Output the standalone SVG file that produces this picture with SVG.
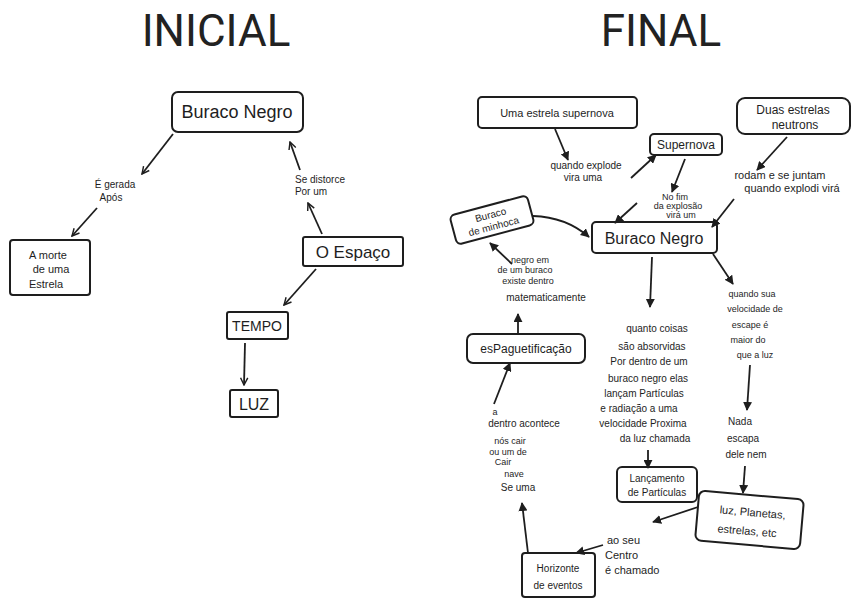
<svg xmlns="http://www.w3.org/2000/svg" width="852" height="600" viewBox="0 0 852 600">
<style>
.title{font-family:Roboto,"Liberation Sans",sans-serif;font-size:44px;fill:#222;text-anchor:middle}
.box{fill:none;stroke:#1e1e1e;stroke-width:2}
.t{font-family:"Liberation Sans","DejaVu Sans",sans-serif;fill:#1e1e1e;text-anchor:middle}
.s{text-anchor:start}
.ln{fill:none;stroke:#1e1e1e;stroke-width:1.8}
.open{marker-end:url(#openArrow)}
.fill{marker-end:url(#fillArrow)}
</style>
<defs>
<marker id="openArrow" viewBox="0 0 10 10" refX="9" refY="5" markerWidth="9" markerHeight="9" markerUnits="userSpaceOnUse" orient="auto">
<path d="M1,1 L9,5 L1,9" fill="none" stroke="#1e1e1e" stroke-width="1.6"/>
</marker>
<marker id="fillArrow" viewBox="0 0 10 10" refX="9" refY="5" markerWidth="9" markerHeight="9" markerUnits="userSpaceOnUse" orient="auto">
<path d="M0,0 L10,5 L0,10 Z" fill="#1e1e1e"/>
</marker>
</defs>
<rect width="852" height="600" fill="#ffffff"/>
<text class="title" x="216" y="46">INICIAL</text>
<text class="title" x="661" y="46">FINAL</text>

<g id="connectors">
<line class="ln open" x1="173" y1="134" x2="142" y2="174"/>
<line class="ln open" x1="97" y1="208" x2="72" y2="236"/>
<line class="ln open" x1="322" y1="234" x2="308" y2="203"/>
<line class="ln open" x1="300" y1="170" x2="290" y2="142"/>
<line class="ln open" x1="316" y1="269" x2="284" y2="305"/>
<line class="ln open" x1="245" y1="343" x2="244" y2="385"/>
<line class="ln fill" x1="555" y1="129" x2="568" y2="160"/>
<line class="ln fill" x1="631" y1="178" x2="656" y2="155"/>
<line class="ln fill" x1="685" y1="159" x2="672" y2="192"/>
<line class="ln fill" x1="637" y1="203" x2="615" y2="223"/>
<line class="ln fill" x1="787" y1="137" x2="757" y2="170"/>
<line class="ln fill" x1="734" y1="199" x2="712" y2="227"/>
<path class="ln fill" d="M533,216 Q566,217 589,237"/>
<line class="ln fill" x1="512" y1="264" x2="490" y2="243"/>
<line class="ln fill" x1="518" y1="333" x2="518" y2="314"/>
<line class="ln fill" x1="494" y1="404" x2="510" y2="363"/>
<line class="ln fill" x1="528" y1="553" x2="522" y2="503"/>
<line class="ln fill" x1="603" y1="545" x2="576" y2="553"/>
<line class="ln fill" x1="652" y1="257" x2="650" y2="307"/>
<line class="ln fill" x1="648" y1="450" x2="648" y2="468"/>
<line class="ln fill" x1="713" y1="254" x2="733" y2="284"/>
<line class="ln fill" x1="750" y1="365" x2="747" y2="410"/>
<line class="ln fill" x1="745" y1="466" x2="743" y2="493"/>
<line class="ln fill" x1="698" y1="507" x2="653" y2="522"/>
</g>

<g id="l-buraco-negro">
<rect class="box" x="172" y="92" width="131" height="40" rx="6"/>
<text class="t" x="237" y="118" font-size="18">Buraco Negro</text>
</g>
<g id="l-label-gerada">
<text class="t" x="115" y="188" font-size="10">É gerada</text>
<text class="t" x="111" y="201" font-size="10">Após</text>
</g>
<g id="l-morte-estrela">
<rect class="box" x="10" y="240" width="80" height="55" rx="3"/>
<text class="t" x="48" y="259" font-size="11">A morte</text>
<text class="t" x="51" y="273" font-size="11">de uma</text>
<text class="t" x="46" y="288" font-size="11">Estrela</text>
</g>
<g id="l-espaco">
<rect class="box" x="303" y="237" width="100" height="29" rx="2"/>
<text class="t" x="353" y="258" font-size="17">O Espaço</text>
</g>
<g id="l-label-distorce">
<text class="t" x="320" y="183" font-size="10">Se distorce</text>
<text class="t" x="311" y="195" font-size="10">Por um</text>
</g>
<g id="l-tempo">
<rect class="box" x="227" y="312" width="61" height="27" rx="2"/>
<text class="t" x="257" y="331" font-size="14">TEMPO</text>
</g>
<g id="l-luz">
<rect class="box" x="230" y="390" width="48" height="27" rx="2"/>
<text class="t" x="254" y="410" font-size="16">LUZ</text>
</g>

<g id="r-estrela-supernova">
<rect class="box" x="478" y="97" width="159" height="31" rx="4"/>
<text class="t" x="557" y="117" font-size="11">Uma estrela supernova</text>
</g>
<g id="r-label-explode">
<text class="t" x="586" y="169" font-size="10">quando explode</text>
<text class="t" x="583" y="181" font-size="10">vira uma</text>
</g>
<g id="r-supernova">
<rect class="box" x="650" y="134" width="72" height="21" rx="4"/>
<text class="t" x="686" y="149" font-size="12">Supernova</text>
</g>
<g id="r-label-fim">
<text class="t" x="675" y="200" font-size="9">No fim</text>
<text class="t" x="678" y="209" font-size="9">da explosão</text>
<text class="t" x="681" y="218" font-size="9">virá um</text>
</g>
<g id="r-duas-estrelas">
<rect class="box" x="737" y="98" width="113" height="36" rx="8"/>
<text class="t" x="793" y="114" font-size="12">Duas estrelas</text>
<text class="t" x="795" y="129" font-size="12">neutrons</text>
</g>
<g id="r-label-rodam">
<text class="t" x="780" y="179" font-size="11">rodam e se juntam</text>
<text class="t" x="792" y="192" font-size="11">quando explodi virá</text>
</g>
<g id="r-buraco-negro">
<rect class="box" x="592" y="222" width="125" height="31" rx="4"/>
<text class="t" x="654" y="244" font-size="16">Buraco Negro</text>
</g>
<g id="r-buraco-minhoca" transform="rotate(-15 492 220)">
<rect class="box" x="452" y="205" width="80" height="30" rx="5"/>
<text class="t" x="492" y="218" font-size="10">Buraco</text>
<text class="t" x="492" y="230" font-size="10">de minhoca</text>
</g>
<g id="r-label-matematicamente">
<text class="t" x="530" y="263" font-size="9">negro em</text>
<text class="t" x="525" y="273" font-size="9">de um buraco</text>
<text class="t" x="528" y="284" font-size="9">existe dentro</text>
<text class="t" x="546" y="301" font-size="10">matematicamente</text>
</g>
<g id="r-espaguetificacao">
<rect class="box" x="467" y="334" width="118" height="29" rx="6"/>
<text class="t" x="526" y="353" font-size="12">esPaguetificação</text>
</g>
<g id="r-label-nave">
<text class="t" x="495" y="415" font-size="9">a</text>
<text class="t" x="524" y="427" font-size="10">dentro acontece</text>
<text class="t" x="510" y="444" font-size="9">nós cair</text>
<text class="t" x="508" y="455" font-size="9">ou um de</text>
<text class="t" x="503" y="465" font-size="9">Cair</text>
<text class="t" x="514" y="477" font-size="9">nave</text>
<text class="t" x="518" y="491" font-size="10">Se uma</text>
</g>
<g id="r-horizonte">
<rect class="box" x="522" y="553" width="73" height="44" rx="3"/>
<text class="t" x="558" y="572" font-size="10">Horizonte</text>
<text class="t" x="558" y="589" font-size="10">de eventos</text>
</g>
<g id="r-label-centro">
<text class="t s" x="607" y="544" font-size="11">ao seu</text>
<text class="t s" x="605" y="559" font-size="11">Centro</text>
<text class="t s" x="605" y="574" font-size="11">é chamado</text>
</g>
<g id="r-label-particulas">
<text class="t" x="657" y="332" font-size="10">quanto coisas</text>
<text class="t" x="652" y="350" font-size="10">são absorvidas</text>
<text class="t" x="649" y="365" font-size="10">Por dentro de um</text>
<text class="t" x="648" y="382" font-size="10">buraco negro elas</text>
<text class="t" x="644" y="397" font-size="10">lançam Partículas</text>
<text class="t" x="639" y="412" font-size="10">e radiação a uma</text>
<text class="t" x="643" y="427" font-size="10">velocidade Proxima</text>
<text class="t" x="655" y="442" font-size="10">da luz chamada</text>
</g>
<g id="r-lancamento">
<rect class="box" x="617" y="467" width="80" height="35" rx="5"/>
<text class="t" x="657" y="482" font-size="10">Lançamento</text>
<text class="t" x="657" y="496" font-size="10">de Partículas</text>
</g>
<g id="r-label-velocidade">
<text class="t" x="752" y="297" font-size="9">quando sua</text>
<text class="t" x="755" y="312" font-size="9">velocidade de</text>
<text class="t" x="750" y="328" font-size="9">escape é</text>
<text class="t" x="748" y="343" font-size="9">maior do</text>
<text class="t" x="755" y="358" font-size="9">que a luz</text>
</g>
<g id="r-label-nada">
<text class="t" x="740" y="425" font-size="10">Nada</text>
<text class="t" x="743" y="442" font-size="10">escapa</text>
<text class="t" x="746" y="458" font-size="10">dele nem</text>
</g>
<g id="r-luz-planetas" transform="rotate(5 750 520)">
<rect class="box" x="697" y="495" width="105" height="50" rx="6"/>
<text class="t" x="752" y="516" font-size="11">luz, Planetas,</text>
<text class="t" x="748" y="535" font-size="11">estrelas, etc</text>
</g>
</svg>
